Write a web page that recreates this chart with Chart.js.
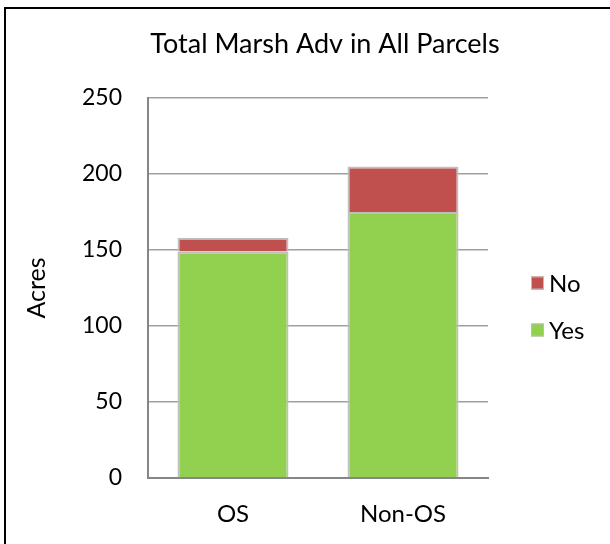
<!DOCTYPE html>
<html>
<head>
<meta charset="utf-8">
<script src="https://cdn.jsdelivr.net/npm/chart.js@4/dist/chart.umd.min.js"></script>
<style>
  html, body { margin: 0; padding: 0; background: #ffffff; }
  #wrap { position: relative; width: 610px; height: 544px; overflow: hidden; }
  #frame { position: absolute; left: 4px; top: 7px; width: 700px; height: 700px;
           border-left: 2px solid #000; border-top: 2px solid #000; box-sizing: border-box; }
  canvas { position: absolute; left: 0; top: 0; }
</style>
</head>
<body>
<div id="wrap">
  <div id="frame"></div>
  <canvas id="c" width="610" height="544"></canvas>
</div>
<script>
const chartTitle = 'Total Marsh Adv in All Parcels';
const yAxisTitle = 'Acres';
const categories = ['OS', 'Non-OS'];
const seriesNames = ['Yes', 'No'];
const yesValues = [149, 175];
const noValues = [9, 30];
const yMin = 0;
const yMax = 250;
const yStep = 50;

const FONT = 'Lato, "Open Sans", sans-serif';

const legendPlugin = {
  id: 'sideLegend',
  afterDraw(chart) {
    const ctx = chart.ctx;
    const area = chart.chartArea;
    const items = Chart.defaults.plugins.legend.labels.generateLabels(chart).slice().reverse();
    const mid = (area.top + area.bottom) / 2;
    const x = area.right + 43;
    const box = 13;
    const gap = 47;
    const startY = mid - 5;
    ctx.save();
    ctx.font = '24px ' + FONT;
    ctx.textBaseline = 'middle';
    ctx.textAlign = 'left';
    items.forEach((it, i) => {
      const cy = startY + i * gap;
      ctx.fillStyle = it.fillStyle;
      ctx.fillRect(x, cy - box / 2, box, box);
      ctx.strokeStyle = '#bdbdbd';
      ctx.lineWidth = 1;
      ctx.strokeRect(x + 0.5, cy - box / 2 + 0.5, box - 1, box - 1);
      ctx.fillStyle = '#000';
      ctx.fillText(it.text, x + box + 5, cy + 1);
    });
    ctx.restore();
  }
};

new Chart(document.getElementById('c'), {
  type: 'bar',
  data: {
    labels: categories,
    datasets: [
      { label: seriesNames[0], data: yesValues, backgroundColor: '#92d050',
        borderColor: '#bfbfbf', borderWidth: 2 },
      { label: seriesNames[1], data: noValues, backgroundColor: '#c0504d',
        borderColor: '#bfbfbf', borderWidth: 2 }
    ]
  },
  options: {
    responsive: false,
    animation: false,
    layout: { padding: { left: 40, right: 0, top: 0, bottom: 0 } },
    datasets: { bar: { categoryPercentage: 1, barPercentage: 0.653 } },
    plugins: {
      legend: { display: false },
      tooltip: { enabled: false },
      title: {
        display: true,
        text: chartTitle,
        color: '#000',
        font: { family: FONT, size: 27, weight: 'normal', lineHeight: 1.2 },
        padding: { top: 28, bottom: 37.6 }
      }
    },
    scales: {
      x: {
        stacked: true,
        grid: { display: false, drawTicks: false },
        border: { display: true, color: '#868686', width: 2 },
        ticks: { color: '#000', padding: 22, font: { family: FONT, size: 24 } },
        afterFit(s) { s.height = 66; }
      },
      y: {
        stacked: true,
        min: yMin, max: yMax,
        ticks: { stepSize: yStep, color: '#000', padding: 26, font: { family: FONT, size: 23 } },
        grid: { color: '#a0a0a0', lineWidth: 1.5, drawTicks: false },
        border: { display: true, color: '#868686', width: 2 },
        title: { display: true, text: yAxisTitle, color: '#000',
                 font: { family: FONT, size: 25 }, padding: { top: -18, bottom: 0 } },
        afterFit(s) { s.width = 108; }
      },
      yR: {
        position: 'right',
        display: true,
        grid: { display: false, drawTicks: false },
        border: { display: false },
        ticks: { display: false },
        afterFit(s) { s.width = 122; }
      }
    }
  },
  plugins: [legendPlugin]
});
</script>
</body>
</html>
